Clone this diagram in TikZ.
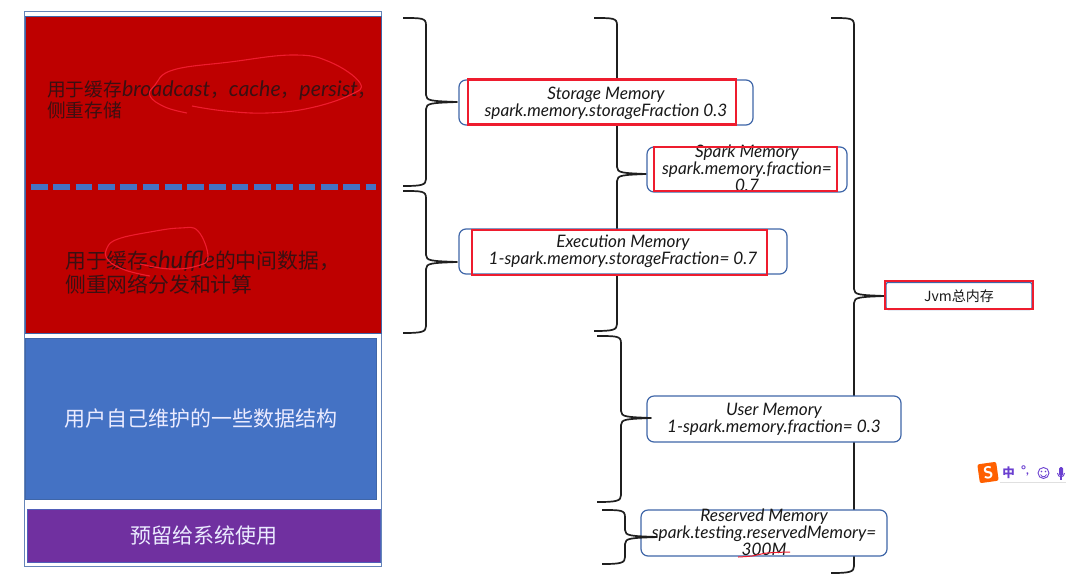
\documentclass[tikz,border=0pt]{standalone}
\usepackage{fontspec}
\setmainfont{Lato}
\newfontfamily\cjk{Noto Sans CJK SC}
\usetikzlibrary{calc,positioning}
\definecolor{memred}{HTML}{BE0000}
\definecolor{memblue}{HTML}{4472C4}
\definecolor{mempurple}{HTML}{7030A0}
\definecolor{memedge}{HTML}{3F66A8}
\definecolor{inkred}{HTML}{EE1C2E}
\definecolor{darktext}{HTML}{3A1012}
\definecolor{imeviolet}{HTML}{6A3FD0}
% x0, spine x, y top, y bottom, tip coordinate
\newcommand{\membrace}[5]{%
  \draw[braceline] let \p1=(#5) in
    (#1,#3) .. controls (#2-4,#3) and (#2,#3) .. (#2,#3+7)
    -- (#2,\y1+7pt) .. controls (#2,\y1+1pt) and (#2+6,\y1+1pt) .. (#5)
    .. controls (#2+6,\y1-1pt) and (#2,\y1-1pt) .. (#2,\y1-7pt)
    -- (#2,#4-7) .. controls (#2,#4-1) and (#2-4,#4) .. (#1,#4);
}
\newcommand{\hand}[2]{{\fontspec{Lato}\itshape\fontsize{#1}{#1}\selectfont #2}}
\tikzset{
  braceline/.style={draw=black!88,line width=1.7pt,line join=round},
  memblock/.style={draw=memedge,line width=0.8pt,anchor=center,inner sep=0pt},
  membox/.style={draw=memedge,line width=1.2pt,fill=white,rounded corners=7pt,inner sep=0pt},
  redframe/.style={draw=inkred,line width=2.4pt,inner sep=0pt},
  memlabel/.style={align=center,font=\itshape\fontsize{17.2}{17}\selectfont,text=black!90},
  darklabel/.style={align=left,anchor=west,inner sep=0pt,text=darktext},
  whitelabel/.style={text=white!92!blue,font=\cjk\fontsize{21}{24}\selectfont},
  scribble/.style={draw=inkred,line width=1.1pt,smooth,tension=0.7}
}
\begin{document}
\begin{tikzpicture}[x=1pt,y=-1pt]
  \useasboundingbox (0,0) rectangle (1075,587);

  % Outer frame and coloured blocks
  \draw[draw=memedge!80,line width=0.9pt] (24.5,11) rectangle (381,566);
  \node[memblock,fill=memred,minimum width=356pt,minimum height=317pt] (heapblock) at (203,174.5) {};
  \node[memblock,fill=memblue,minimum width=351.5pt,minimum height=161pt] (userblock) at (200.7,418.5) {};
  \node[memblock,fill=mempurple,draw=memblue!70!mempurple,minimum width=353pt,minimum height=53pt] (sysblock) at (203.5,536) {};

  % Dashed split
  \draw[memblue,line width=6pt,dash pattern=on 16.7pt off 5.6pt] (31,186.5) -- (375.5,186.5);

  % Block texts
  \node[darklabel,font=\cjk\fontsize{18.7}{21}\selectfont] (storagetext) at (47,100)
    {用于缓存\hand{21.4}{broadcast}，\hand{21.4}{cache}，\hand{21.4}{persist}，\\侧重存储};
  \node[darklabel,font=\cjk\fontsize{20.8}{24}\selectfont] (shuffletext) at (65,272.5)
    {用于缓存\hand{24}{shuffle}的中间数据，\\侧重网络分发和计算};
  \node[whitelabel] (usertext) at (userblock.center) {用户自己维护的一些数据结构};
  \node[whitelabel] (systext) at (sysblock.center) {预留给系统使用};

  % Pen marks on the red block
  \draw[scribble] plot coordinates {(187,113) (165,107) (150,96) (155,85) (173,70) (230,62) (293,55) (330,62) (360,83) (350,95) (310,108) (267,113) (225,111) (192,106)};
  \draw[scribble] plot coordinates {(150,276) (125,270) (108,260) (107,248) (118,239) (150,232) (180,228) (198,231) (208,257) (197,266) (170,269) (140,264)};

  % Coordinates of the brace tips
  \coordinate (storagetip) at (457,102);
  \coordinate (exectip) at (457,262);
  \coordinate (sparktip) at (646,174);
  \coordinate (usertip) at (651,418);
  \coordinate (reservedtip) at (657,537);
  \coordinate (jvmtip) at (885,296);

  % Long braces pass behind the boxes
  \membrace{594}{617}{18}{331}{sparktip}
  \membrace{831}{854}{18}{573}{jvmtip}

  % Boxes
  \node[membox,minimum width=294pt,minimum height=45pt] (storagebox) at (606,102.5) {};
  \node[membox,minimum width=200pt,minimum height=45pt] (sparkbox) at (747,169.5) {};
  \node[membox,minimum width=328pt,minimum height=45pt] (execbox) at (623,251.5) {};
  \node[membox,minimum width=254pt,minimum height=46pt] (userbox) at (774,419) {};
  \node[membox,minimum width=246pt,minimum height=46pt] (reservedbox) at (764,533) {};
  \node[membox,rounded corners=2pt,minimum width=146pt,minimum height=27pt] (jvmbox) at (959,296) {};

  % Short braces sit on top
  \membrace{403}{426}{18}{186}{storagetip}
  \membrace{403}{426}{191}{333}{exectip}
  \membrace{597}{621}{336}{502}{usertip}
  \membrace{602}{625}{510}{564}{reservedtip}

  % Box texts
  \node[memlabel] (storagetext2) at (606,103) {Storage Memory\\spark.memory.storageFraction 0.3};
  \node[memlabel] (sparktext) at (747,168) {Spark Memory\\spark.memory.fraction=\\0.7};
  \node[memlabel] (exectext) at (623,251) {Execution Memory\\1-spark.memory.storageFraction= 0.7};
  \node[memlabel] (usertext2) at (774,419) {User Memory\\1-spark.memory.fraction= 0.3};
  \node[memlabel] (reservedtext) at (764,532) {Reserved Memory\\spark.testing.reservedMemory=\\300M};
  \node[font=\cjk\fontsize{14}{15}\selectfont,text=black!90] (jvmtext) at (jvmbox.center) {Jvm总内存};

  % Red frames
  \node[redframe,minimum width=268pt,minimum height=45pt] (storageframe) at (602,102) {};
  \node[redframe,minimum width=183pt,minimum height=44pt] (sparkframe) at (745.5,169) {};
  \node[redframe,minimum width=295pt,minimum height=45pt] (execframe) at (619.5,252.5) {};
  \node[redframe,minimum width=148pt,minimum height=28pt] (jvmframe) at (959,295) {};
  \draw[inkred,line width=1pt] plot[smooth] coordinates {(738,557) (752,556) (767,553) (790,552)};

  % Input method bar
  \fill[black!12] (1000,481.5) rectangle (1066,483);
  \node[fill=orange!75!red,rounded corners=2pt,rotate=8,minimum size=19pt,inner sep=0pt,text=white,font=\bfseries\fontsize{17}{17}\selectfont] (imelogo) at (988,472.5) {S};
  \node[text=imeviolet,font=\cjk\bfseries\fontsize{12.5}{12.5}\selectfont] (imelang) at (1008.5,473) {中};
  \node[text=imeviolet,font=\bfseries\fontsize{12}{12}\selectfont] (imepunct) at (1025,471) {°,};
  \draw[imeviolet,line width=0.9pt] (1043.5,473) circle (5.5pt);
  \fill[imeviolet] (1041.5,471.5) circle (0.8pt) (1045.5,471.5) circle (0.8pt);
  \draw[imeviolet,line width=0.8pt] (1040.5,474.5) .. controls (1042,477.5) and (1045,477.5) .. (1046.5,474.5);
  \fill[imeviolet,rounded corners=1.5pt] (1059,467) rectangle (1063,476);
  \draw[imeviolet,line width=0.9pt] (1057.5,473) .. controls (1057.5,478) and (1064.5,478) .. (1064.5,473);
  \draw[imeviolet,line width=1.4pt] (1061,477) -- (1061,480);
\end{tikzpicture}
\end{document}
